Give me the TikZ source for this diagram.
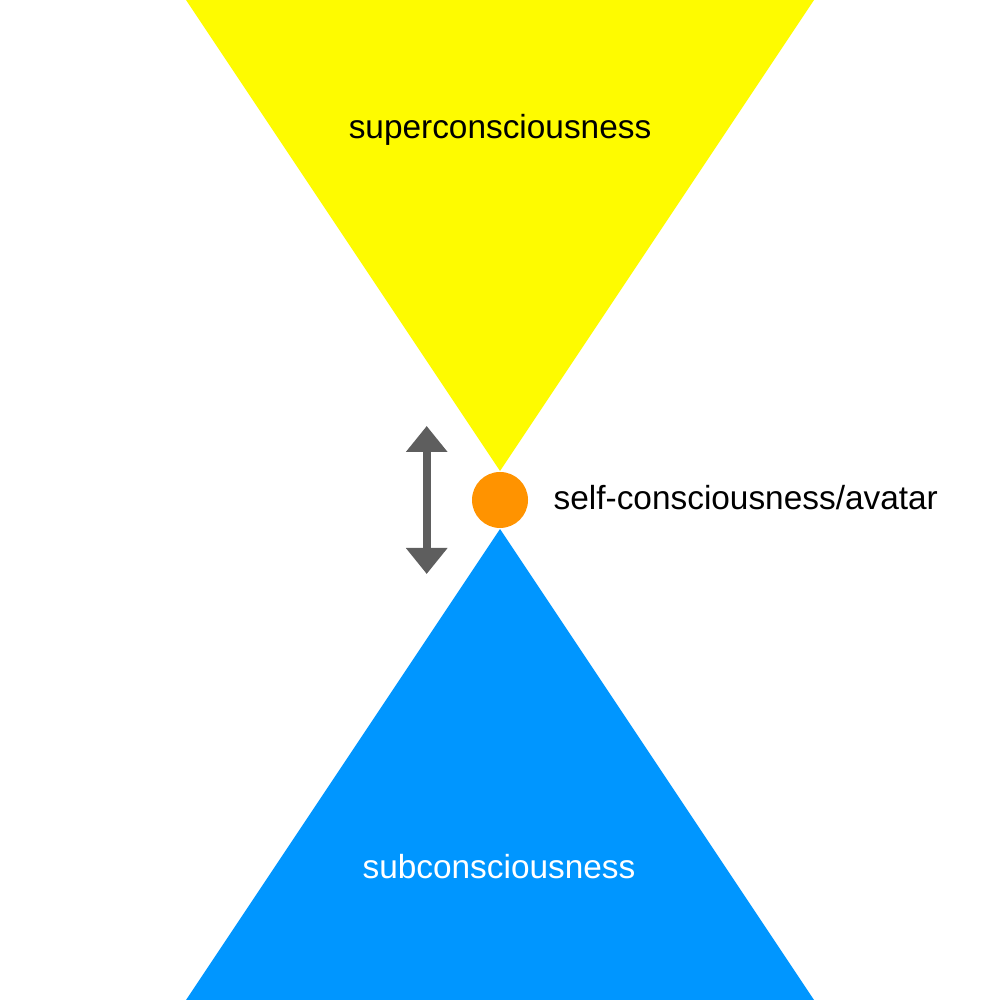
\documentclass[tikz,border=0pt]{standalone}
\usepackage{fontspec}
\setmainfont{Liberation Sans}
\usetikzlibrary{arrows.meta}

\definecolor{superyellow}{HTML}{FEFB00}
\definecolor{subblue}{HTML}{0096FF}
\definecolor{selforange}{HTML}{FF9300}
\definecolor{arrowgray}{HTML}{5E5E5E}

\begin{document}
\begin{tikzpicture}[
    cone/.style={draw=none},
    label/.style={font=\fontsize{9.5}{11}\selectfont, inner sep=0pt, anchor=base},
    avatar/.style={circle, fill=selforange, minimum size=0.56cm, inner sep=0pt},
    flow/.style={{Triangle[length=2.6mm, width=4mm]}-{Triangle[length=2.6mm, width=4mm]},
                 line width=0.08cm, arrowgray},
]
\useasboundingbox (0,0) rectangle (10,10);

% the two cones
\fill[cone, superyellow] (1.86,10) -- (8.14,10) -- (5,5.29) -- cycle;
\fill[cone, subblue]     (5,4.71) -- (1.86,0) -- (8.14,0) -- cycle;

\node[avatar] (self) at (5,5) {};

\coordinate (up)   at (4.267,5.74);
\coordinate (down) at (4.267,4.26);
\draw[flow] (up) -- (down);

\node[label] (super) at (5,8.61) {superconsciousness};
\node[label, anchor=base west] (selflbl) at (5.53,4.90) {self-consciousness/avatar};
\node[label, white] (sub) at (4.99,1.217) {subconsciousness};
\end{tikzpicture}
\end{document}
